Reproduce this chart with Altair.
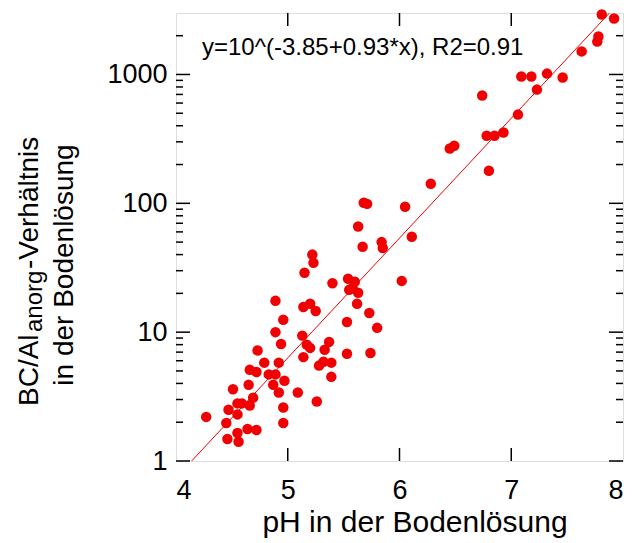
import altair as alt
import pandas as pd

# pH values (x) and BC/Al ratio (y)
ph = [7.81, 7.92, 7.78, 7.77, 7.63, 7.32, 7.09, 7.18, 7.46, 7.23,
      7.06, 6.93, 6.85, 6.78, 6.49, 6.45, 6.80, 6.28, 6.05, 5.68,
      5.71, 5.63, 6.11, 5.84, 5.85, 5.67, 5.40, 5.54, 5.60, 5.55,
      5.63, 5.58, 6.02, 5.62, 5.73, 4.89, 5.14, 5.20, 5.25, 4.96,
      5.53, 5.80, 4.89, 5.13, 4.94, 5.17, 5.20, 5.37, 5.33, 5.14,
      5.53, 5.74, 4.73, 4.92, 5.32, 5.39, 5.28, 4.79, 5.39, 5.09,
      5.26, 4.66, 4.72, 4.83, 4.89, 4.97, 4.87, 4.92, 4.65, 4.51,
      4.69, 4.55, 4.59, 4.66, 4.47, 4.55, 4.27, 4.96, 4.96, 4.45,
      4.64, 4.72, 4.55, 4.46, 4.56, 5.22, 5.23, 5.15, 6.74]
ratio = [2920, 2720, 1970, 1800, 1510, 1016, 963, 963, 946, 763,
         488, 354, 335, 335, 280, 266, 179, 142, 94, 101,
         99, 66, 55, 50, 45, 46, 24, 26, 24.6, 21.3,
         20.2, 22, 25, 16.6, 14.1, 17.5, 15.7, 16.6, 14.6, 12.5,
         12.0, 10.8, 10.0, 9.4, 8.1, 8.0, 7.55, 8.4, 7.3, 6.4,
         6.8, 6.9, 7.2, 5.8, 5.9, 5.8, 5.5, 5.8, 4.5, 3.4,
         2.9, 5.1, 4.9, 4.7, 4.7, 4.2, 3.9, 3.4, 3.9, 3.6,
         3.1, 2.8, 2.8, 2.7, 2.5, 2.3, 2.2, 2.6, 1.97, 1.97,
         1.77, 1.74, 1.65, 1.48, 1.41, 40, 34.5, 28.9, 686]

fit_coef = [-3.85, 0.93]          # intercept, slope of log10 fit
fit_x = [4.14, 7.88]
x_ticks = [4, 5, 6, 7, 8]
x_inner_ticks = [5, 6, 7]
y_major = [1, 10, 100, 1000]
y_minor = [2, 3, 4, 5, 6, 7, 8, 9, 20, 30, 40, 50, 60, 70, 80, 90,
           200, 300, 400, 500, 600, 700, 800, 900, 2000]

equation = "y=10^(-3.85+0.93*x), R2=0.91"
x_title = "pH in der Bodenlösung"
y_title_a = "BC/Al"
y_title_sub = "anorg"
y_title_b = "-Verhältnis"
y_title_2 = "in der Bodenlösung"

FONT = "Liberation Sans"
W, H = 447, 448
RED = "#f00000"

xs = alt.Scale(domain=[4, 8], nice=False, zero=False)
ys = alt.Scale(type="log", domain=[1, 3000], nice=False)

df = pd.DataFrame({"ph": ph, "ratio": ratio})
fit_df = pd.DataFrame({"ph": fit_x,
                       "ratio": [10 ** (fit_coef[0] + fit_coef[1] * v) for v in fit_x]})

base_x = alt.X("ph:Q", scale=xs,
               axis=alt.Axis(values=x_ticks, format="d", ticks=False, domain=False, grid=False,
                             labelFontSize=27, labelFont=FONT, labelColor="black",
                             labelPadding=16, title=None))
base_y = alt.Y("ratio:Q", scale=ys,
               axis=alt.Axis(values=y_major, format="d", ticks=False, domain=False, grid=False,
                             labelFontSize=27, labelFont=FONT, labelColor="black",
                             labelPadding=9, title=None))

points = alt.Chart(df).mark_circle(size=110, color=RED, opacity=1).encode(x=base_x, y=base_y)
line = alt.Chart(fit_df).mark_line(color=RED, strokeWidth=1, clip=True).encode(
    x=alt.X("ph:Q", scale=xs), y=alt.Y("ratio:Q", scale=ys))

ymaj = pd.DataFrame({"v": y_major})
ymin = pd.DataFrame({"v": y_minor})
xin = pd.DataFrame({"v": x_inner_ticks})

def yticks(d, length):
    left = alt.Chart(d).mark_rule(color="black", strokeWidth=1.5).encode(
        y=alt.Y("v:Q", scale=ys), x=alt.value(0), x2=alt.value(length))
    right = alt.Chart(d).mark_rule(color="black", strokeWidth=1.5).encode(
        y=alt.Y("v:Q", scale=ys), x=alt.value(W), x2=alt.value(W - length))
    return left + right

xt_bottom = alt.Chart(xin).mark_rule(color="black", strokeWidth=1.5).encode(
    x=alt.X("v:Q", scale=xs), y=alt.value(H), y2=alt.value(H - 13))
xt_top = alt.Chart(xin).mark_rule(color="black", strokeWidth=1.5).encode(
    x=alt.X("v:Q", scale=xs), y=alt.value(0), y2=alt.value(13))

def label(txt, x, y, size, angle=0, align="left", baseline="alphabetic"):
    return alt.Chart(pd.DataFrame({"t": [txt]})).mark_text(
        font=FONT, fontSize=size, angle=angle, align=align, baseline=baseline,
        color="black").encode(x=alt.value(x), y=alt.value(y), text="t:N")

eq = label(equation, 26, 42, 24)
xtitle = label(x_title, 239, 519, 30, align="center")
yt2 = label(y_title_2, -103, 252, 28, angle=270, align="center")
yt_a = label(y_title_a, -138, 393, 28, angle=270)
yt_sub = label(y_title_sub, -134, 319, 24, angle=270)
yt_b = label(y_title_b, -138, 256, 28, angle=270)

chart = alt.layer(
    line, points, yticks(ymaj, 14), yticks(ymin, 7), xt_bottom, xt_top,
    eq, xtitle, yt2, yt_a, yt_sub, yt_b
).properties(
    width=W, height=H,
    autosize=alt.AutoSizeParams(type="none"),
    padding={"left": 176, "top": 13, "right": 10, "bottom": 82},
).configure_view(stroke="#111", strokeWidth=1.5).configure(background="white")

chart.save("out.html", embed_options={"renderer": "svg", "actions": False})
